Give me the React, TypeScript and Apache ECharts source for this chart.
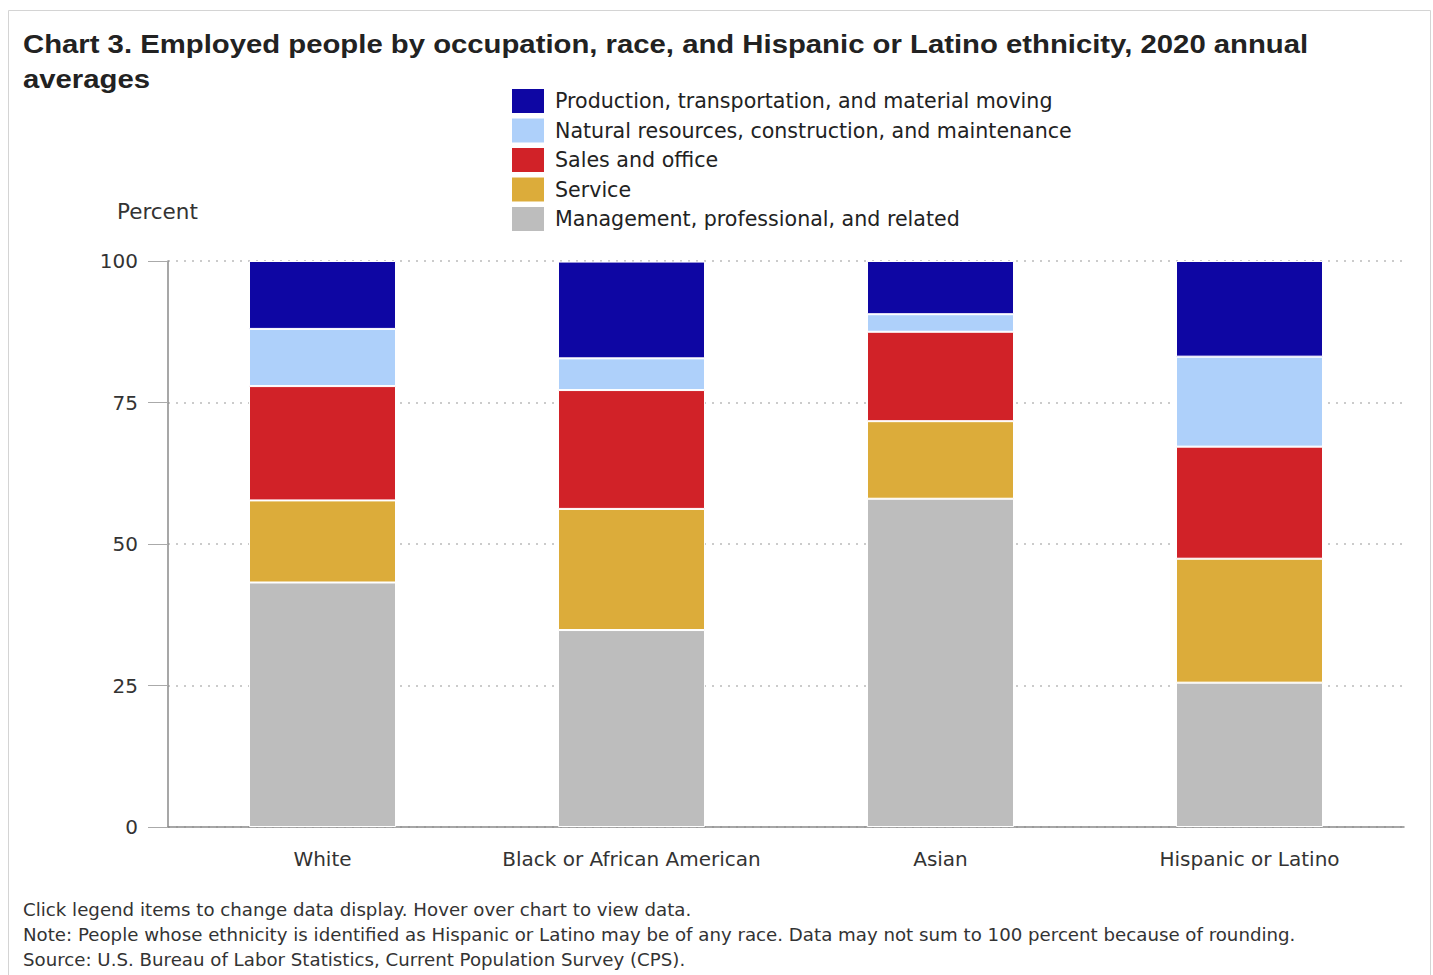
import React, { useEffect, useRef } from "react";
import * as echarts from "echarts";

const categories = ["White", "Black or African American", "Asian", "Hispanic or Latino"];
const management = [43.2, 34.8, 58.0, 25.5];
const service = [14.5, 21.4, 13.7, 21.9];
const salesOffice = [20.2, 21.0, 15.8, 19.8];
const naturalResources = [10.1, 5.6, 3.1, 15.9];
const production = [12.0, 17.1, 9.4, 16.9];
const yTicks = [0, 25, 50, 75, 100];

const seriesNames = [
  "Management, professional, and related",
  "Service",
  "Sales and office",
  "Natural resources, construction, and maintenance",
  "Production, transportation, and material moving",
];
const seriesColors = ["#bdbdbd", "#dcac3a", "#d12228", "#aed0fa", "#0e06a3"];
const seriesData = [management, service, salesOffice, naturalResources, production];

const FONT = "'DejaVu Sans', 'Open Sans', sans-serif";
const TITLE_FONT = "bold 26px 'Liberation Sans', Arial, sans-serif";

export default function App() {
  const ref = useRef<HTMLDivElement>(null);
  useEffect(() => {
    if (!ref.current) return;
    const chart = echarts.init(ref.current, undefined, { renderer: "svg" });
    const footer = (text: string, y: number) => ({
      type: "text",
      x: 23,
      y,
      style: { text, font: `18.2px ${FONT}`, fill: "#333", verticalAlign: "middle" },
    });
    chart.setOption({
      animation: false,
      backgroundColor: "#fff",
      textStyle: { fontFamily: FONT },
      graphic: [
        {
          type: "rect",
          shape: { x: 8.5, y: 10.5, width: 1422, height: 980 },
          style: { fill: "none", stroke: "#d4d4d4", lineWidth: 1 },
          silent: true,
        },
        {
          type: "text",
          x: 23,
          y: 44,
          scaleX: 1.127,
          style: {
            text: "Chart 3. Employed people by occupation, race, and Hispanic or Latino ethnicity, 2020 annual",
            font: TITLE_FONT,
            fill: "#222",
            verticalAlign: "middle",
          },
        },
        {
          type: "text",
          x: 23,
          y: 79,
          scaleX: 1.127,
          style: { text: "averages", font: TITLE_FONT, fill: "#222", verticalAlign: "middle" },
        },
        {
          type: "text",
          x: 117,
          y: 211,
          style: { text: "Percent", font: `21.5px ${FONT}`, fill: "#333", verticalAlign: "middle" },
        },
        footer("Click legend items to change data display. Hover over chart to view data.", 909),
        footer(
          "Note: People whose ethnicity is identified as Hispanic or Latino may be of any race. Data may not sum to 100 percent because of rounding.",
          934
        ),
        footer("Source: U.S. Bureau of Labor Statistics, Current Population Survey (CPS).", 959),
      ],
      legend: {
        orient: "vertical",
        left: 510,
        top: 87,
        padding: 0,
        itemWidth: 34,
        itemHeight: 26,
        itemGap: 1.5,
        icon: "rect",
        data: [...seriesNames].reverse(),
        textStyle: {
          fontSize: 20.6,
          lineHeight: 26,
          color: "#222",
          fontFamily: FONT,
          padding: [0, 0, 0, 5],
        },
      },
      grid: { left: 168, right: 29, top: 261, bottom: 148 },
      xAxis: {
        type: "category",
        data: categories,
        axisLine: { lineStyle: { color: "#8a8a8a", width: 1.5 } },
        axisTick: { alignWithLabel: true, length: 16, lineStyle: { color: "#aaa" } },
        axisLabel: { interval: 0, fontSize: 20, color: "#333", margin: 22, fontFamily: FONT },
      },
      yAxis: {
        type: "value",
        min: yTicks[0],
        max: yTicks[yTicks.length - 1],
        interval: 25,
        axisLine: { show: true, lineStyle: { color: "#8a8a8a", width: 1.5 } },
        axisTick: { show: true, length: 20, lineStyle: { color: "#aaa" } },
        axisLabel: { fontSize: 20, color: "#333", margin: 30, fontFamily: FONT },
        splitLine: { lineStyle: { type: [2, 6], color: "#bbb", width: 1.5 } },
      },
      series: seriesNames.map((name, i) => ({
        name,
        type: "bar",
        stack: "total",
        barWidth: 147,
        data: seriesData[i],
        itemStyle: { color: seriesColors[i], borderColor: "#fff", borderWidth: 1 },
      })),
    });
    return () => chart.dispose();
  }, []);
  return (
    <div
      ref={ref}
      style={{ position: "fixed", left: 0, top: 0, width: 1433, height: 975, background: "#fff" }}
    />
  );
}
